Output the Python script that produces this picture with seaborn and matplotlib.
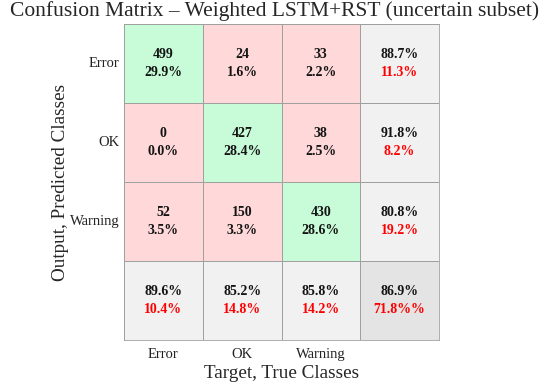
import numpy as np
import pandas as pd
import seaborn as sns
import matplotlib.pyplot as plt
from matplotlib.colors import ListedColormap

classes = ["Error", "OK", "Warning"]
counts = [[499, 24, 33],
          [0, 427, 38],
          [52, 150, 430]]
cell_pct = [["29.9%", "1.6%", "2.2%"],
            ["0.0%", "28.4%", "2.5%"],
            ["3.5%", "3.3%", "28.6%"]]
row_good = ["88.7%", "91.8%", "80.8%"]
row_bad = ["11.3%", "8.2%", "19.2%"]
col_good = ["89.6%", "85.2%", "85.8%"]
col_bad = ["10.4%", "14.8%", "14.2%"]
total_good = "86.9%"
total_bad = "71.8%%"

sns.set_theme(style="white")
plt.rcParams['font.family'] = ['Liberation Serif', 'DejaVu Serif']

n = len(classes)
codes = np.full((n + 1, n + 1), 2)
for i in range(n):
    for j in range(n):
        codes[i, j] = 0 if i == j else 1
codes[n, n] = 3
cmap = ListedColormap(["#c8fcd8", "#ffd9d9", "#f1f1f1", "#e4e4e4"])

fig = plt.figure(figsize=(5.5, 3.88), dpi=100)
ax = fig.add_axes([124 / 550, 1 - 340 / 388, 315 / 550, 316 / 388])
df = pd.DataFrame(codes, index=classes + [""], columns=classes + [""])
sns.heatmap(df, ax=ax, cmap=cmap, vmin=-0.5, vmax=3.5, cbar=False,
            linewidths=0.6, linecolor="#a0a0a0", annot=False)
for s in ax.spines.values():
    s.set_visible(True)
    s.set_color("#a0a0a0")
    s.set_linewidth(0.6)

fs = 10
dark = "#141414"
for i in range(n):
    for j in range(n):
        ax.text(j + 0.5, i + 0.38, str(counts[i][j]), ha="center", va="center",
                fontsize=fs, fontweight="bold", color=dark)
        ax.text(j + 0.5, i + 0.61, cell_pct[i][j], ha="center", va="center",
                fontsize=fs, fontweight="bold", color=dark)
    ax.text(n + 0.5, i + 0.38, row_good[i], ha="center", va="center",
            fontsize=fs, fontweight="bold", color=dark)
    ax.text(n + 0.5, i + 0.61, row_bad[i], ha="center", va="center",
            fontsize=fs, fontweight="bold", color="#ff0000")
    ax.text(i + 0.5, n + 0.38, col_good[i], ha="center", va="center",
            fontsize=fs, fontweight="bold", color=dark)
    ax.text(i + 0.5, n + 0.61, col_bad[i], ha="center", va="center",
            fontsize=fs, fontweight="bold", color="#ff0000")
ax.text(n + 0.5, n + 0.38, total_good, ha="center", va="center",
        fontsize=fs, fontweight="bold", color=dark)
ax.text(n + 0.5, n + 0.61, total_bad, ha="center", va="center",
        fontsize=fs, fontweight="bold", color="#ff0000")

ax.set_xticks(np.arange(n) + 0.5)
ax.set_xticklabels(classes, fontsize=10.5, color="#222222")
ax.set_yticks(np.arange(n) + 0.5)
ax.set_yticklabels(classes, fontsize=10.5, color="#222222", rotation=0)
ax.tick_params(axis="y", length=0, pad=3)
ax.tick_params(axis="x", length=0, pad=6)
ax.set_xlabel("Target, True Classes", fontsize=13.8, labelpad=3)
ax.set_ylabel("Output, Predicted Classes", fontsize=13.8, labelpad=1)
fig.suptitle("Confusion Matrix – Weighted LSTM+RST (uncertain subset)",
             fontsize=15.5, y=0.998)

fig.savefig("out.png", dpi=100)
